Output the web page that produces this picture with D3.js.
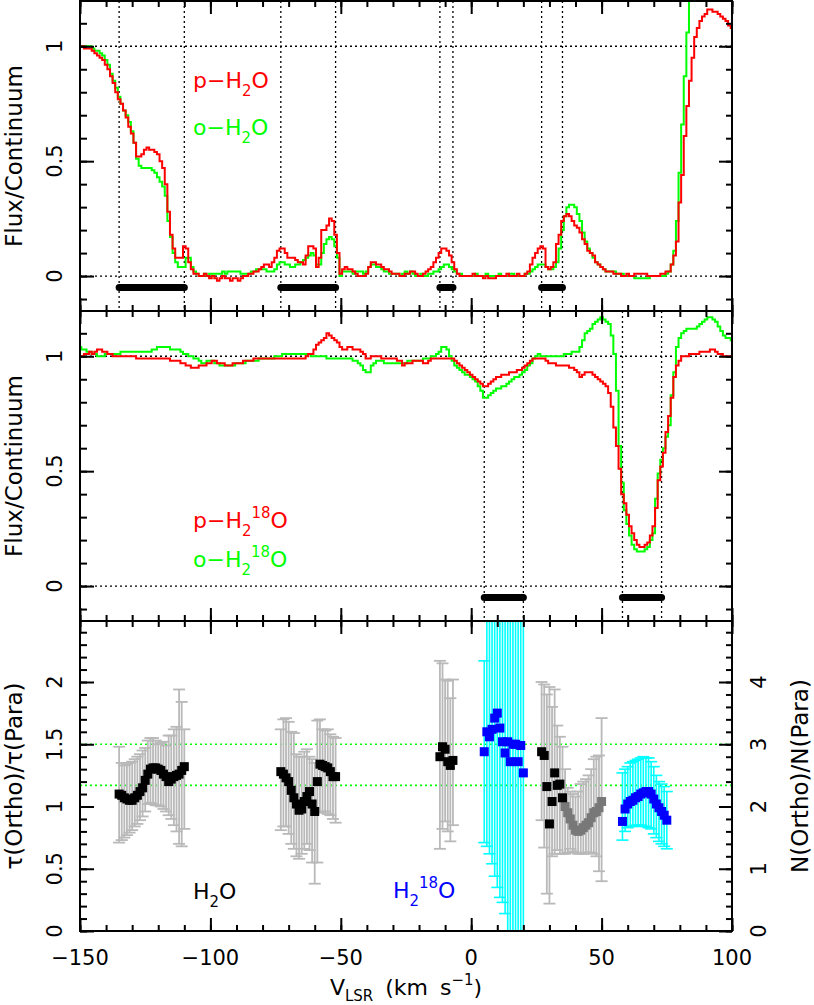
<!DOCTYPE html>
<html><head><meta charset="utf-8">
<script src="https://cdn.jsdelivr.net/npm/d3@7"></script>
<style>body{margin:0;background:#fff}text{font-family:"DejaVu Sans",sans-serif}</style>
</head><body><svg id="c" width="814" height="1005"></svg>
<script>
// ---------- DATA ----------
const velStart = -150, velEnd = 100, velStep = 1;
const xMajorTicks = [-150, -100, -50, 0, 50, 100];
const xTickLabels = ["−150", "−100", "−50", "0", "50", "100"];
const fluxTickLabels = ["0", "0.5", "1"];
const ratioTickLabels = ["0", "0.5", "1", "1.5", "2"];
const columnTickLabels = ["0", "1", "2", "3", "4"];

// top panel: p-H2O and o-H2O (flux/continuum per 1 km/s channel from -150 to 100)
const pH2O = [
1.00,1.00,0.99,0.99,0.99,0.98,0.97,0.96,0.95,0.94,
0.92,0.90,0.87,0.84,0.80,0.77,0.75,0.72,0.69,0.65,
0.62,0.58,0.52,0.52,0.53,0.55,0.56,0.55,0.55,0.54,
0.53,0.50,0.47,0.40,0.28,0.18,0.12,0.08,0.08,0.08,
0.13,0.12,0.06,0.03,0.01,0.01,0.00,0.00,0.01,0.00,
-0.01,0.00,-0.01,-0.02,-0.01,0.00,-0.01,-0.01,-0.02,-0.01,
-0.01,-0.02,-0.01,0.00,0.00,0.01,0.01,0.02,0.02,0.03,
0.04,0.05,0.05,0.04,0.06,0.08,0.11,0.12,0.12,0.10,
0.08,0.08,0.08,0.07,0.06,0.06,0.05,0.09,0.13,0.13,
0.12,0.04,0.08,0.20,0.20,0.22,0.25,0.24,0.18,0.10,
0.01,0.03,0.04,0.03,0.03,0.02,0.01,0.00,0.00,0.00,
0.01,0.04,0.06,0.06,0.05,0.05,0.04,0.03,0.03,0.02,
0.01,0.01,0.01,0.00,0.00,0.01,0.01,0.02,0.02,0.01,
0.00,0.00,0.01,0.02,0.03,0.04,0.06,0.08,0.10,0.12,
0.12,0.11,0.09,0.06,0.03,0.01,0.00,0.00,0.00,0.00,
0.00,0.01,0.00,0.00,0.00,-0.01,0.00,-0.01,-0.01,-0.01,
0.00,0.00,0.00,0.00,0.01,0.00,0.00,0.00,0.01,0.00,
0.00,0.01,0.02,0.05,0.08,0.10,0.12,0.13,0.12,0.04,
0.03,0.04,0.06,0.14,0.18,0.24,0.26,0.27,0.26,0.24,
0.22,0.21,0.19,0.16,0.14,0.11,0.10,0.09,0.06,0.05,
0.04,0.03,0.02,0.02,0.02,0.01,0.01,0.01,0.00,0.00,
0.01,0.00,0.00,0.01,0.01,0.01,0.01,0.01,0.00,0.00,
0.00,0.00,0.00,0.01,0.01,0.02,0.02,0.05,0.09,0.15,
0.32,0.44,0.61,0.74,0.85,0.95,1.04,1.08,1.11,1.13,
1.14,1.16,1.16,1.15,1.15,1.14,1.13,1.12,1.11,1.09,
1.08];
const oH2O = [
1.00,1.00,1.00,1.00,1.00,0.99,0.98,0.98,0.97,0.96,
0.94,0.92,0.88,0.85,0.82,0.78,0.75,0.72,0.70,0.67,
0.63,0.58,0.51,0.48,0.47,0.47,0.47,0.47,0.46,0.45,
0.43,0.41,0.39,0.35,0.24,0.17,0.10,0.06,0.04,0.04,
0.04,0.08,0.08,0.04,0.02,0.01,0.00,0.00,0.01,0.00,
0.01,0.01,0.01,0.01,0.01,0.02,0.01,0.02,0.02,0.02,
0.02,0.02,0.01,0.01,0.01,0.01,0.02,0.02,0.03,0.03,
0.03,0.03,0.02,0.02,0.02,0.03,0.05,0.06,0.06,0.05,
0.05,0.04,0.04,0.05,0.05,0.06,0.07,0.08,0.09,0.10,
0.09,0.05,0.05,0.10,0.14,0.16,0.17,0.16,0.13,0.08,
0.00,0.02,0.02,0.02,0.02,0.01,0.02,0.02,0.02,0.01,
0.02,0.04,0.05,0.05,0.04,0.04,0.03,0.02,0.02,0.01,
0.01,0.01,0.01,0.00,0.01,0.02,0.01,0.02,0.01,0.00,
0.00,0.01,0.00,0.00,0.01,0.01,0.02,0.02,0.03,0.04,
0.05,0.05,0.04,0.03,0.02,0.01,0.01,0.00,0.00,0.00,
0.00,0.00,0.01,0.00,0.00,0.00,0.01,0.00,0.00,0.00,
0.00,0.01,0.00,0.00,0.00,0.01,0.01,0.00,0.00,0.00,
0.00,0.01,0.01,0.02,0.03,0.04,0.05,0.05,0.05,0.04,
0.03,0.03,0.04,0.06,0.12,0.20,0.26,0.30,0.31,0.31,
0.30,0.27,0.24,0.19,0.15,0.12,0.10,0.08,0.06,0.05,
0.04,0.03,0.02,0.02,0.02,0.02,0.01,0.01,0.01,0.00,
0.00,0.00,0.00,-0.01,-0.01,-0.01,-0.01,-0.01,-0.01,0.00,
0.00,0.00,0.00,0.00,0.00,0.01,0.02,0.05,0.11,0.24,
0.45,0.66,0.87,1.06,1.25,1.35,1.40,1.40,1.40,1.40,
1.40,1.40,1.40,1.40,1.40,1.40,1.40,1.40,1.40,1.40,
1.40];

// middle panel: p-H2(18)O and o-H2(18)O
const pH218O = [
1.00,1.00,1.01,1.01,1.02,1.01,1.02,1.03,1.03,1.02,
1.02,1.01,1.01,1.00,1.00,1.00,1.00,1.00,1.00,1.00,
1.00,1.00,0.99,0.99,0.99,0.99,0.99,0.99,0.99,0.99,
0.99,0.99,0.99,0.99,0.99,0.98,0.98,0.98,0.98,0.97,
0.97,0.96,0.96,0.95,0.95,0.95,0.96,0.96,0.96,0.97,
0.97,0.98,0.98,0.97,0.97,0.97,0.96,0.96,0.96,0.97,
0.97,0.97,0.97,0.98,0.98,0.98,0.98,0.99,0.99,0.99,
0.99,0.99,0.99,0.99,0.99,0.99,0.99,0.99,0.99,0.99,
0.99,0.99,0.99,0.99,0.99,0.99,0.99,1.00,1.01,1.01,
1.03,1.05,1.06,1.07,1.08,1.10,1.09,1.08,1.07,1.06,
1.04,1.03,1.03,1.04,1.04,1.03,1.03,1.03,1.02,1.01,
0.99,0.99,1.00,1.00,1.00,1.00,0.99,0.99,0.99,0.99,
0.99,0.99,0.98,0.98,0.96,0.97,0.97,0.97,0.98,0.98,
0.98,0.98,0.97,0.97,0.98,0.99,0.99,0.99,0.99,0.99,
0.99,0.99,0.99,0.99,0.98,0.97,0.96,0.95,0.94,0.93,
0.92,0.91,0.90,0.89,0.88,0.87,0.87,0.88,0.89,0.90,
0.91,0.91,0.92,0.92,0.92,0.93,0.93,0.93,0.94,0.94,
0.95,0.96,0.97,0.98,0.99,0.99,0.99,0.99,0.99,0.98,
0.97,0.97,0.97,0.96,0.96,0.96,0.96,0.96,0.95,0.95,
0.94,0.93,0.91,0.92,0.93,0.93,0.93,0.92,0.91,0.90,
0.89,0.88,0.87,0.84,0.78,0.69,0.61,0.51,0.40,0.36,
0.31,0.26,0.23,0.20,0.18,0.17,0.17,0.18,0.19,0.22,
0.26,0.34,0.46,0.52,0.58,0.67,0.74,0.82,0.91,0.96,
0.98,1.00,1.00,1.00,1.01,1.01,1.01,1.01,1.02,1.02,
1.02,1.02,1.03,1.03,1.02,1.01,1.01,1.00,1.00,1.00,
1.00];
const oH218O = [
1.04,1.03,1.03,1.02,1.02,1.01,1.01,1.00,1.00,1.00,
1.01,1.01,1.01,1.01,1.01,1.01,1.02,1.02,1.02,1.02,
1.02,1.02,1.02,1.02,1.02,1.02,1.02,1.02,1.03,1.03,
1.04,1.04,1.04,1.04,1.04,1.03,1.03,1.03,1.03,1.02,
1.01,1.01,1.00,1.00,0.99,0.99,0.98,0.97,0.97,0.98,
0.98,0.98,0.97,0.97,0.96,0.96,0.96,0.96,0.96,0.96,
0.97,0.97,0.97,0.97,0.98,0.98,0.98,0.98,0.98,0.99,
0.99,0.99,0.99,0.99,0.99,1.00,1.00,1.00,1.01,1.01,
1.01,1.01,1.01,1.01,1.01,1.01,1.01,1.01,1.01,1.00,
1.00,1.00,1.00,1.00,1.00,0.99,0.99,0.99,0.99,0.99,
0.99,0.99,0.99,0.99,0.99,0.98,0.98,0.97,0.96,0.94,
0.93,0.93,0.96,0.97,0.98,0.98,0.98,0.97,0.97,0.97,
0.97,0.97,0.97,0.97,0.97,0.97,0.98,0.98,0.98,0.98,
0.98,0.98,0.99,0.99,0.99,1.00,1.00,1.01,1.02,1.04,
1.04,1.03,1.00,0.98,0.96,0.95,0.94,0.93,0.92,0.92,
0.91,0.90,0.89,0.87,0.85,0.82,0.82,0.83,0.84,0.85,
0.86,0.86,0.87,0.87,0.88,0.89,0.90,0.91,0.91,0.92,
0.93,0.94,0.96,0.97,0.99,1.00,1.01,1.00,1.00,1.00,
1.00,1.00,1.00,1.00,1.00,1.00,1.01,1.01,1.01,1.02,
1.02,1.02,1.04,1.07,1.10,1.11,1.12,1.14,1.15,1.16,
1.17,1.16,1.15,1.14,1.09,1.01,0.85,0.61,0.45,0.33,
0.27,0.22,0.18,0.16,0.15,0.15,0.15,0.16,0.17,0.20,
0.23,0.38,0.49,0.55,0.60,0.65,0.70,0.83,0.93,1.04,
1.08,1.10,1.11,1.12,1.12,1.12,1.12,1.13,1.14,1.15,
1.16,1.17,1.17,1.16,1.15,1.13,1.11,1.09,1.08,1.08,
1.07];

// velocity intervals used for the ratios
const rangesH2O = [[-135,-110],[-73,-52],[-12,-7],[27,35]];
const rangesH218O = [[5,20],[58,73]];

// bottom panel: tau(ortho)/tau(para)
const ratioVelH2O = [
-135,-134,-133,-132,-131,-130,-129,-128,-127,-126,-125,-124,-123,-122,-121,-120,-119,-118,-117,-116,-115,-114,-113,-112,-111,-110,
-73,-72,-71,-70,-69,-68,-67,-66,-65,-64,-63,-62,-61,-60,-59,-58,-57,-56,-55,-54,-53,-52,
-12,-11,-10,-9,-8,-7,
27,28,29,30,31,32,33,34,35];
const ratioH2O = [
1.10,1.09,1.07,1.06,1.05,1.05,1.07,1.09,1.12,1.15,1.21,1.26,1.30,1.31,1.31,1.30,1.29,1.26,1.24,1.20,1.22,1.24,1.25,1.26,1.29,1.32,
1.28,1.26,1.23,1.20,1.13,1.07,1.02,0.97,0.98,1.04,1.08,1.12,1.02,0.96,1.20,1.34,1.33,1.32,1.31,1.28,1.24,1.24,
1.40,1.48,1.46,1.36,1.33,1.37,
1.44,1.41,1.16,0.86,1.04,1.27,1.17,1.18,1.07];
const ratioHiH2O = [
1.48,1.35,1.33,1.34,1.35,1.36,1.38,1.40,1.42,1.45,1.47,1.53,1.55,1.55,1.53,1.50,1.51,1.52,1.49,1.57,1.57,1.62,1.64,1.94,1.84,1.62,
1.62,1.70,1.71,1.68,1.60,1.59,1.42,1.40,1.40,1.44,1.46,1.40,1.38,1.35,1.69,1.70,1.62,1.61,1.62,1.58,1.56,1.55,
2.17,2.15,2.02,2.01,1.87,2.02,
2.00,1.98,1.90,1.96,1.80,1.94,1.65,1.56,1.48];
const ratioLoH2O = [
0.71,0.73,0.75,0.77,0.79,0.81,0.84,0.86,0.89,0.92,0.96,1.02,1.03,1.02,1.01,1.01,1.00,0.98,0.96,0.93,0.90,0.85,0.80,0.70,0.68,0.82,
0.81,0.84,0.84,0.78,0.70,0.66,0.60,0.58,0.62,0.66,0.70,0.65,0.55,0.38,0.55,0.95,0.96,0.96,0.94,0.93,0.90,0.87,
0.66,0.82,0.88,0.80,0.72,0.85,
0.89,0.67,0.30,0.22,0.60,0.62,0.65,0.62,0.62];

const ratioVelWing = [36,37,38,39,40,41,42,43,44,45,46,47,48,49,50];
const ratioWing   = [1.00,0.95,0.90,0.85,0.81,0.80,0.81,0.83,0.85,0.87,0.91,0.95,0.96,0.99,1.04];
const ratioHiWing = [1.30,1.15,1.12,1.10,1.08,1.12,1.18,1.20,1.22,1.25,1.30,1.38,1.40,1.41,1.71];
const ratioLoWing = [0.62,0.63,0.66,0.64,0.63,0.62,0.62,0.62,0.63,0.63,0.63,0.62,0.60,0.48,0.40];

const ratioVelH218O = [5,6,7,8,9,10,11,12,13,14,15,16,17,18,19,20,
58,59,60,61,62,63,64,65,66,67,68,69,70,71,72,73,74,75];
const ratioH218O = [1.44,1.60,1.56,1.62,1.71,1.75,1.63,1.52,1.43,1.52,1.36,1.50,1.50,1.36,1.49,1.27,
0.88,0.98,1.02,1.04,1.05,1.07,1.08,1.10,1.11,1.12,1.12,1.10,1.06,1.02,0.99,0.96,0.93,0.89];
const ratioHiH218O = [2.17,3.2,3.3,3.4,3.5,3.6,3.6,3.7,3.7,3.8,3.8,3.9,3.9,4.0,4.0,4.1,
1.27,1.30,1.32,1.35,1.36,1.37,1.38,1.39,1.40,1.39,1.39,1.36,1.32,1.25,1.20,1.18,1.16,1.12];
const ratioLoH218O = [0.71,0.68,0.62,0.54,0.44,0.35,0.27,0.23,0.14,-0.10,-0.30,-0.40,-0.50,-0.60,-0.70,-0.80,
0.73,0.80,0.83,0.84,0.84,0.85,0.85,0.85,0.84,0.84,0.83,0.82,0.78,0.75,0.72,0.70,0.68,0.66];

const refRatios = [1.5, 1.17];

// ---------- DRAWING ----------
const L = 80, R = 732;
const panels = [{top:1, bot:311}, {top:311, bot:621}, {top:621, bot:931}];
const svg = d3.select("#c");
const vel = d3.range(velStart, velEnd + velStep, velStep);
const x = d3.scaleLinear().domain([velStart, velEnd]).range([L, R]);
const y1 = d3.scaleLinear().domain([-0.152, 1.197]).range([311, 1]);
const y2 = d3.scaleLinear().domain([-0.152, 1.197]).range([621, 311]);
const y3 = d3.scaleLinear().domain([0, 2.49]).range([931, 621]);
const y3r = d3.scaleLinear().domain([0, 4.98]).range([931, 621]);

const defs = svg.append("defs");
panels.forEach((p, i) => defs.append("clipPath").attr("id", "clip" + i)
  .append("rect").attr("x", L).attr("y", p.top).attr("width", R - L).attr("height", p.bot - p.top));

const RED = "#ff0000", GREEN = "#00ff00", BLUE = "#0000ff", CYAN = "#00ffff", EGREY = "#b9b9b9", MGREY = "#787878";
const TICKFONT = 21, TITLEFONT = 23, LABELFONT = 22;

function dotted(g, x1, y1_, x2, y2_, color, w) {
  g.append("line").attr("x1", x1).attr("y1", y1_).attr("x2", x2).attr("y2", y2_)
    .attr("stroke", color || "#000").attr("stroke-width", w || 1.3).attr("stroke-dasharray", "2,3");
}

function spectrum(g, vals, ys, color, ci) {
  g.append("path").datum(vals)
    .attr("d", d3.line().x((d, i) => x(vel[i])).y(d => ys(d)).curve(d3.curveStep))
    .attr("fill", "none").attr("stroke", color).attr("stroke-width", 2)
    .attr("clip-path", `url(#clip${ci})`);
}

function rich(g, x0, y0, parts, size, color, opts) {
  opts = opts || {};
  const subOff = opts.subOff != null ? opts.subOff : 0.38 * size;
  const t = g.append("text").attr("fill", color).attr("font-size", size);
  if (opts.rot) t.attr("transform", `translate(${x0},${y0}) rotate(-90)`).attr("text-anchor", "middle");
  else t.attr("x", x0).attr("y", y0).attr("text-anchor", opts.anchor || "start");
  if (opts.ws) t.attr("word-spacing", opts.ws);
  let cur = 0;
  parts.forEach(([s, k]) => {
    const off = k === "sub" ? subOff : k === "sup" ? -0.45 * size : 0;
    const fs = k ? size * 0.68 : size;
    t.append("tspan").attr("dy", off - cur).attr("font-size", fs).text(s);
    cur = off;
  });
  return t;
}

function axes(p, ys, yMinor, yMajor, ysR, yMinorR, yMajorR) {
  const g = svg.append("g");
  const add = (axis, tr) => g.append("g").attr("transform", tr).call(axis).call(s => s.select(".domain").remove());
  const xMinor = d3.range(velStart, velEnd + 1, 10);
  add(d3.axisBottom(x).tickValues(xMinor).tickSize(-6).tickFormat(""), `translate(0,${p.bot})`);
  add(d3.axisBottom(x).tickValues(xMajorTicks).tickSize(-13).tickFormat(""), `translate(0,${p.bot})`);
  add(d3.axisTop(x).tickValues(xMinor).tickSize(-6).tickFormat(""), `translate(0,${p.top})`);
  add(d3.axisTop(x).tickValues(xMajorTicks).tickSize(-13).tickFormat(""), `translate(0,${p.top})`);
  add(d3.axisLeft(ys).tickValues(yMinor).tickSize(-7).tickFormat(""), `translate(${L},0)`);
  add(d3.axisLeft(ys).tickValues(yMajor).tickSize(-14).tickFormat(""), `translate(${L},0)`);
  const yr = ysR || ys;
  add(d3.axisRight(yr).tickValues(yMinorR || yMinor).tickSize(-6).tickFormat(""), `translate(${R},0)`);
  add(d3.axisRight(yr).tickValues(yMajorR || yMajor).tickSize(-13).tickFormat(""), `translate(${R},0)`);
  g.selectAll("line").attr("stroke", "#000").attr("stroke-width", 2);
  svg.append("rect").attr("x", L).attr("y", p.top).attr("width", R - L).attr("height", p.bot - p.top)
    .attr("fill", "none").attr("stroke", "#000").attr("stroke-width", 2);
}

const fluxMinor = d3.range(-1, 12).map(d => d / 10);
const fluxMajor = [0, 0.5, 1];

// ---- Top and middle panels ----
[[0, y1, pH2O, oH2O, rangesH2O], [1, y2, pH218O, oH218O, rangesH218O]].forEach(([ci, ys, pv, ov, ranges]) => {
  const p = panels[ci];
  const g = svg.append("g");
  dotted(g, L, ys(1), R, ys(1));
  dotted(g, L, ys(0), R, ys(0));
  ranges.forEach(([a, b]) => {
    dotted(g, x(a), p.top, x(a), p.bot);
    dotted(g, x(b), p.top, x(b), p.bot);
    g.append("line").attr("x1", x(a)).attr("x2", x(b)).attr("y1", ys(-0.05)).attr("y2", ys(-0.05))
      .attr("stroke", "#000").attr("stroke-width", 7).attr("stroke-linecap", "round");
  });
  spectrum(g, ov, ys, GREEN, ci);
  spectrum(g, pv, ys, RED, ci);
  axes(p, ys, fluxMinor, fluxMajor);
  fluxMajor.forEach((v, i) => svg.append("text").attr("transform", `translate(62,${ys(v)}) rotate(-90)`)
    .attr("text-anchor", "middle").attr("font-size", TICKFONT).text(fluxTickLabels[i]));
  svg.append("text").attr("transform", `translate(22,${(p.top + p.bot) / 2}) rotate(-90)`)
    .attr("text-anchor", "middle").attr("font-size", TITLEFONT).text("Flux/Continuum");
});

rich(svg, 193, 88, [["p−H"], ["2", "sub"], ["O"]], LABELFONT, RED);
rich(svg, 193, 135, [["o−H"], ["2", "sub"], ["O"]], LABELFONT, GREEN);
rich(svg, 193, 528, [["p−H"], ["2", "sub"], ["18", "sup"], ["O"]], LABELFONT, RED);
rich(svg, 193, 567, [["o−H"], ["2", "sub"], ["18", "sup"], ["O"]], LABELFONT, GREEN);

// ---- Bottom panel ----
const p3 = panels[2];
const gb = svg.append("g").attr("clip-path", "url(#clip2)");
refRatios.forEach(r => dotted(gb, L, y3(r), R, y3(r), GREEN, 1.6));

function errorBars(g, vs, lo, hi, color, w) {
  vs.forEach((v, i) => {
    const cx = x(v);
    g.append("line").attr("x1", cx).attr("x2", cx).attr("y1", y3(lo[i])).attr("y2", y3(hi[i]))
      .attr("stroke", color).attr("stroke-width", w);
    [lo[i], hi[i]].forEach(e => g.append("line").attr("x1", cx - 6).attr("x2", cx + 6)
      .attr("y1", y3(e)).attr("y2", y3(e)).attr("stroke", color).attr("stroke-width", w));
  });
}
function markers(g, vs, rs, color) {
  g.selectAll(null).data(vs).enter().append("rect")
    .attr("x", d => x(d) - 4.5).attr("y", (d, i) => y3(rs[i]) - 4.5)
    .attr("width", 9).attr("height", 9).attr("fill", color);
}
errorBars(gb, ratioVelH2O, ratioLoH2O, ratioHiH2O, EGREY, 1.8);
errorBars(gb, ratioVelWing, ratioLoWing, ratioHiWing, EGREY, 1.8);
errorBars(gb, ratioVelH218O, ratioLoH218O, ratioHiH218O, CYAN, 1.6);
markers(gb, ratioVelWing, ratioWing, MGREY);
markers(gb, ratioVelH2O, ratioH2O, "#000");
markers(gb, ratioVelH218O, ratioH218O, BLUE);

const ratioMinor = d3.range(0, 25).map(d => d / 10);
const ratioMajor = [0, 0.5, 1, 1.5, 2];
const colMinor = d3.range(0, 25).map(d => d / 5);
const colMajor = [0, 1, 2, 3, 4];
axes(p3, y3, ratioMinor, ratioMajor, y3r, colMinor, colMajor);

ratioMajor.forEach((v, i) => svg.append("text").attr("transform", `translate(62,${y3(v)}) rotate(-90)`)
  .attr("text-anchor", "middle").attr("font-size", TICKFONT).text(ratioTickLabels[i]));
colMajor.forEach((v, i) => svg.append("text").attr("transform", `translate(766,${y3r(v)}) rotate(-90)`)
  .attr("text-anchor", "middle").attr("font-size", TICKFONT).text(columnTickLabels[i]));
xMajorTicks.forEach((v, i) => svg.append("text").attr("x", x(v)).attr("y", 965)
  .attr("text-anchor", "middle").attr("font-size", TICKFONT).text(xTickLabels[i]));

rich(svg, 22, (p3.top + p3.bot) / 2, [["τ(Ortho)/τ(Para)"]], TITLEFONT, "#000", {rot: true});
rich(svg, 808, (p3.top + p3.bot) / 2, [["N(Ortho)/N(Para)"]], TITLEFONT, "#000", {rot: true});
rich(svg, (L + R) / 2, 995, [["V"], ["LSR", "sub"], [" (km s"], ["−1", "sup"], [")"]], LABELFONT, "#000",
  {anchor: "middle", subOff: 6, ws: 5});
rich(svg, 193, 899, [["H"], ["2", "sub"], ["O"]], LABELFONT, "#000");
rich(svg, 393, 898, [["H"], ["2", "sub"], ["18", "sup"], ["O"]], LABELFONT, BLUE);
</script></body></html>
